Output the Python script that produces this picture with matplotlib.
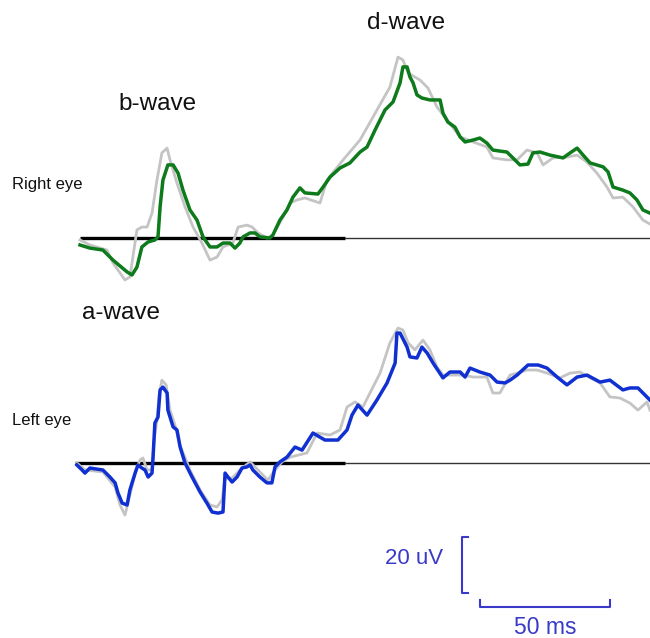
import matplotlib
matplotlib.use("Agg")
import matplotlib.pyplot as plt

plt.rcParams['font.family'] = ['Liberation Sans', 'DejaVu Sans']

# ---- Right eye (time in ms, amplitude in uV) ----
right_t = [0, 3.8, 8.8, 12.7, 18.1, 20, 21.9, 23.8, 26.2, 28.8, 30, 30.8, 31.9, 33.8, 35.8,
           37.7, 39.6, 42.3, 45, 47.3, 50, 52.7, 55, 57.7, 59.6, 61.5, 62.7, 65.4, 67.3, 69.2,
           73.1, 74.2, 76.9, 79.6, 81.9, 84.6, 86.5, 91.5, 93.5, 96.2, 100, 103.8, 107.7, 110.4,
           113.5, 117.3, 120.4, 123.1, 124.2, 125.8, 126.9, 128.1, 129.6, 131.5, 134.6, 138.5,
           139.6, 141.5, 144.2, 146.2, 148.1, 151.2, 153.8, 156.5, 158.8, 164.2, 166.5, 169.2,
           172.3, 174.2, 176.9, 180.8, 185.8, 188.5, 191.2, 193.5, 196.2, 201.2, 203.1, 205,
           208.8, 211.5, 214.2, 216.5, 219.2]
right_v = [-2.5, -3.6, -4.3, -7.9, -12.1, -13.2, -10.4, -3.2, -1.4, -0.7, 0.4, 11.1, 20.7, 26.1,
           26.1, 23.2, 17.1, 10, 6.4, 0.4, -3.2, -3.2, -1.8, -1.8, -3.6, -1.8, 0.4, 1.8, 1.8, 0.4,
           0, 1.1, 6.4, 10, 14.6, 17.9, 16.1, 15.7, 18.2, 21.8, 25, 26.8, 30.7, 32.5, 38.6, 45.7,
           48.6, 55.4, 61.1, 61.1, 57.5, 55.4, 51.1, 50, 49.3, 49.3, 44.6, 41.4, 39.6, 36.1, 34.3,
           35, 35.7, 33.9, 31.4, 30.7, 28.6, 26.1, 26.4, 30.4, 30.7, 29.6, 28.6, 30.4, 32.1, 29.6,
           26.8, 25.4, 23.6, 18.2, 17.1, 16.1, 13.6, 10, 8.9]

right_ref_t = [0, 3.8, 10.4, 12.7, 17.3, 19.2, 21.9, 23.8, 25.8, 27.7, 29.6, 31.5, 33.5, 34.6,
               37.3, 40.4, 43.5, 46.9, 50, 52.7, 55, 58.8, 60.8, 64.2, 66.2, 68.5, 71.9, 74.2,
               78.1, 80.8, 83.5, 86.5, 92.3, 95, 101.2, 107.7, 114.2, 119.2, 122.3, 124.2, 126.2,
               130.8, 133.8, 137.3, 141.2, 146.2, 151.2, 156.5, 158.8, 164.2, 168.1, 171.9, 175.8,
               178.1, 181.9, 187.3, 191.2, 195, 198.8, 202.7, 205, 208.8, 212.7, 216.5, 219.2]
right_ref_v = [-0.7, -2.5, -4.3, -8.9, -15, -13.9, 2.9, 3.9, 3.9, 8.9, 20.7, 30.4, 32.1, 27.9,
               19.6, 11.1, 3.9, -1.8, -7.9, -6.8, -3.2, -1.8, 3.9, 4.6, 3.9, 1.8, 0, 1.1, 7.5,
               12.5, 13.6, 14.3, 12.5, 20.7, 27.9, 35, 45.7, 53.9, 64.6, 63.6, 58.9, 56.4, 53.6,
               46.8, 42.1, 36.1, 34.3, 32.5, 28.6, 27.9, 27.9, 31.4, 30.4, 26.1, 28.6, 28.9, 29.6,
               27.1, 23.2, 18.2, 14.3, 14.6, 11.1, 6.4, 5]

# ---- Left eye ----
left_t = [-1.2, 0.8, 1.9, 3.8, 8.8, 11.5, 13.5, 14.6, 16.2, 18.1, 19.2, 21.2, 22.3, 23.8, 25,
          26.2, 27.7, 28.1, 28.8, 30, 30.8, 31.9, 33.5, 33.8, 35.8, 37.3, 38.5, 40.4, 43.1, 46.2,
          48.8, 50.8, 53.1, 55, 55.8, 56.9, 58.5, 60.4, 62.3, 64.2, 65.4, 66.5, 69.2, 71.9, 73.8,
          75, 76.9, 79.6, 82.7, 85.4, 89.6, 94.2, 99.2, 102.7, 104.6, 106.9, 110.4, 114.2, 118.1,
          121.2, 121.9, 123.1, 125.8, 126.9, 129.6, 131.5, 133.5, 135.8, 139.6, 142.3, 146.2,
          148.1, 150, 153.8, 157.7, 160.4, 163.5, 165.4, 168.1, 172.3, 176.2, 179.6, 183.5,
          187.3, 191.2, 195, 200, 203.8, 208.8, 211.5, 214.6, 219.2]
left_v = [-0.7, -2.5, -3.6, -1.8, -2.5, -5, -7.1, -10.7, -14.3, -15, -9.6, -3.6, -0.7, -1.8,
          -2.5, -5, -3.6, 2.1, 14.3, 16.4, 26.1, 27.1, 25, 18.9, 12.9, 11.8, 5.7, 0, -5, -10.4,
          -14.3, -17.5, -17.9, -17.5, -3.6, -5, -6.8, -5, -1.8, -1.4, -0.7, -2.5, -5, -7.1, -7.1,
          -1.4, 0.4, 2.1, 5.7, 4.6, 10.7, 8.2, 8.2, 11.8, 17.1, 20.7, 17.1, 22.5, 28.6, 35.7,
          46.4, 46.4, 41.4, 37.9, 37.5, 41.4, 39.3, 35.7, 30.4, 32.5, 32.5, 30.7, 33.9, 32.5,
          31.4, 28.9, 28.6, 29.6, 31.4, 35, 35, 33.9, 30.7, 27.9, 30.7, 31.4, 28.9, 29.6, 26.1,
          26.8, 26.8, 22.5]

left_ref_t = [-1.2, 1.9, 8.8, 13.5, 15.4, 17.3, 19.2, 21.5, 23.1, 24.2, 25.8, 27.7, 28.5, 29.6,
              30.4, 31.5, 33.1, 34.6, 36.5, 38.5, 42.3, 46.2, 50, 52.7, 54.6, 55.8, 58.5, 61.5,
              65.4, 69.2, 72.3, 75, 77.7, 80.8, 87.3, 91.2, 96.2, 100, 102.7, 105.8, 108.8,
              115.4, 119.2, 122.3, 124.2, 126.2, 128.8, 131.9, 134.6, 137.3, 139.6, 143.5, 147.3,
              151.2, 156.5, 158.8, 161.5, 165.4, 168.1, 171.9, 175.8, 179.6, 184.6, 188.5, 192.3,
              196.2, 200, 203.8, 207.7, 211.5, 214.6, 218.1, 219.2]
left_ref_v = [0, -2.5, -3.2, -8.6, -15, -18.6, -11.4, -2.5, 1.1, 1.8, -2.5, -2.5, 8.2, 15.4,
              24.3, 29.6, 27.9, 18.9, 13.6, 6.4, -2.5, -9.6, -15, -15.7, -13.2, -5.4, -5.4, -2.5,
              0.4, -3.2, -6.1, -2.5, 0.4, 2.1, 3.6, 10.7, 10, 11.8, 20, 21.8, 20, 32.1, 42.9,
              48.2, 47.5, 42.9, 40.4, 43.9, 40.4, 34.3, 31.4, 31.4, 31.4, 30.7, 30.7, 25, 25,
              31.4, 32.1, 33.2, 33.2, 32.1, 30.4, 32.1, 32.5, 30.4, 28.6, 23.6, 23.2, 21.4, 18.9,
              21.8, 18.9]

# baseline: thick during the stimulus window, thin afterwards
stim_on, stim_off, trace_end = 0, 102, 220
left_stim_on = -2

# scale bar
bar_uv = 20
bar_ms = 50

GREEN = '#0d7a1b'
BLUE = '#1030d2'
GREY = '#c4c4c4'
BAR_BLUE = '#3a3ac8'

W, H = 650, 638
fig = plt.figure(figsize=(W / 100, H / 100), dpi=100)
xlim = (-30.77, 219.23)

ax_top = fig.add_axes([0, 0.5, 1, 0.5])
ax_bot = fig.add_axes([0, 0.0, 1, 0.5])
ax_top.set_xlim(*xlim)
ax_top.set_ylim(-28.93, 85)
ax_bot.set_xlim(*xlim)
ax_bot.set_ylim(-62.5, 51.43)
for ax in (ax_top, ax_bot):
    ax.axis('off')

# right eye panel
ax_top.plot([stim_on, stim_off], [0, 0], color='black', lw=2.4, solid_capstyle='butt', zorder=1)
ax_top.plot([stim_off, trace_end], [0, 0], color='#333333', lw=1.0, zorder=1)
ax_top.plot(right_ref_t, right_ref_v, color=GREY, lw=2.0, zorder=2)
ax_top.plot(right_t, right_v, color=GREEN, lw=2.5, zorder=3)

# left eye panel
ax_bot.plot([left_stim_on, stim_off], [0, 0], color='black', lw=2.4, solid_capstyle='butt', zorder=1)
ax_bot.plot([stim_off, trace_end], [0, 0], color='#333333', lw=1.0, zorder=1)
ax_bot.plot(left_ref_t, left_ref_v, color=GREY, lw=2.0, zorder=2)
ax_bot.plot(left_t, left_v, color=BLUE, lw=2.5, zorder=3)

# scale bar brackets
vx, vy0 = 146.9, -26.4
ax_bot.plot([vx + 2.2, vx, vx, vx + 2.2], [vy0, vy0, vy0 - bar_uv, vy0 - bar_uv],
            color=BAR_BLUE, lw=1.5)
hx0, hy = 153.8, -51.4
ax_bot.plot([hx0, hx0, hx0 + bar_ms, hx0 + bar_ms], [hy + 2.3, hy, hy, hy + 2.3],
            color=BAR_BLUE, lw=1.5)


def px_text(x, y, s, **kw):
    fig.text(x / W, 1 - y / H, s, **kw)


px_text(158, 104, 'b-wave', fontsize=17.5, ha='center', va='center', color='#111111')
px_text(406, 23, 'd-wave', fontsize=17.5, ha='center', va='center', color='#111111')
px_text(121, 313, 'a-wave', fontsize=17.5, ha='center', va='center', color='#111111')
px_text(12, 185, 'Right eye', fontsize=12, ha='left', va='center', color='#111111')
px_text(12, 420, 'Left eye', fontsize=12, ha='left', va='center', color='#111111')
px_text(443, 558, f'{bar_uv} uV', fontsize=16, ha='right', va='center', color=BAR_BLUE)
px_text(545, 627, f'{bar_ms} ms', fontsize=16.5, ha='center', va='center', color=BAR_BLUE)

fig.savefig('out.png', dpi=100, facecolor='white')
